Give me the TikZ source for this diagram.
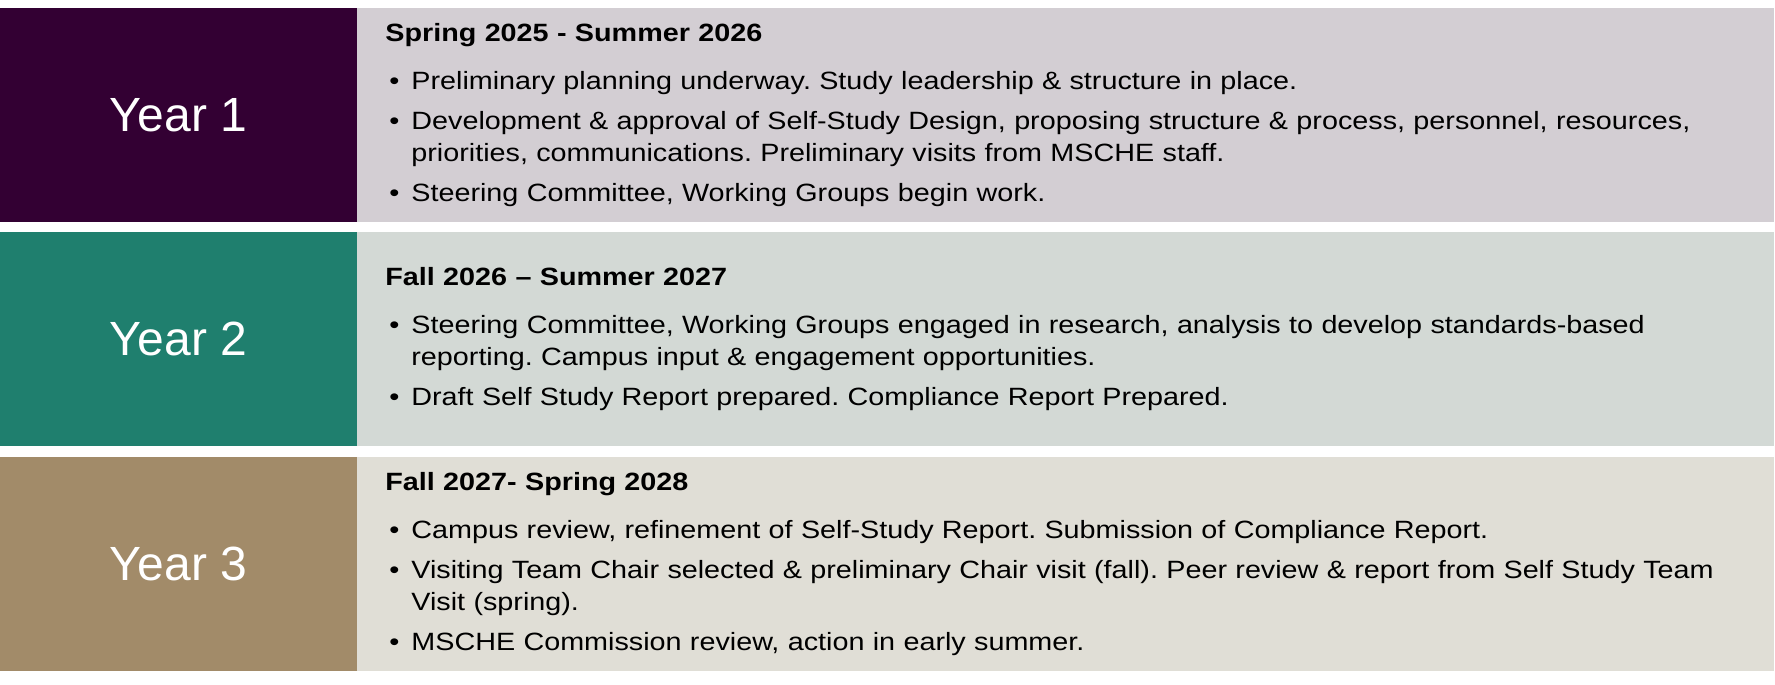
\documentclass[tikz,border=0pt]{standalone}
\usepackage{fontspec}
\setmainfont{Liberation Sans}
\newfontfamily\bodyfont[FakeStretch=1.15]{Liberation Sans}
\usepackage{enumitem}
\usetikzlibrary{positioning}

\definecolor{yearone}{HTML}{330033}
\definecolor{yeartwo}{HTML}{1F7F6E}
\definecolor{yearthree}{HTML}{A28B69}
\definecolor{panelone}{HTML}{D3CED3}
\definecolor{paneltwo}{HTML}{D3D9D5}
\definecolor{panelthree}{HTML}{E0DED6}

\setlist[itemize]{label=\textbullet,leftmargin=26pt,labelsep=12pt,
  topsep=16pt,partopsep=0pt,parsep=0pt,itemsep=8pt}
\frenchspacing

\begin{document}
\begin{tikzpicture}[x=1pt,y=-1pt,
  yearbox/.style={minimum width=357pt,minimum height=214pt,inner sep=0pt,
    text=white,font=\fontsize{48}{56}\selectfont},
  panel/.style={minimum width=1417pt,minimum height=214pt,inner sep=0pt},
  content/.style={anchor=west,inner sep=0pt,text width=1400pt,
    font=\bodyfont\fontsize{25}{32}\selectfont}]
 \useasboundingbox (0,0) rectangle (1775,685);
 \node[yearbox,fill=yearone] (y1) at (178.5,115) {Year 1};
 \node[panel,fill=panelone,right=0pt of y1] (p1) {};
 \node[content] (t1) at ([xshift=28pt]p1.west) {\textbf{Spring 2025 - Summer 2026}
  \begin{itemize}
  \item Preliminary planning underway. Study leadership \& structure in place.
  \item Development \& approval of Self-Study Design, proposing structure \& process, personnel, resources,\newline
   priorities, communications. Preliminary visits from MSCHE staff.
  \item Steering Committee, Working Groups begin work.
  \end{itemize}};

 \node[yearbox,fill=yeartwo,below=10pt of y1] (y2) {Year 2};
 \node[panel,fill=paneltwo,right=0pt of y2] (p2) {};
 \node[content] (t2) at ([xshift=28pt]p2.west) {\textbf{Fall 2026 – Summer 2027}
  \begin{itemize}
  \item Steering Committee, Working Groups engaged in research, analysis to develop standards-based\newline
   reporting. Campus input \& engagement opportunities.
  \item Draft Self Study Report prepared. Compliance Report Prepared.
  \end{itemize}};

 \node[yearbox,fill=yearthree,below=10pt of y2] (y3) {Year 3};
 \node[panel,fill=panelthree,right=0pt of y3] (p3) {};
 \node[content] (t3) at ([xshift=28pt]p3.west) {\textbf{Fall 2027- Spring 2028}
  \begin{itemize}
  \item Campus review, refinement of Self-Study Report. Submission of Compliance Report.
  \item Visiting Team Chair selected \& preliminary Chair visit (fall). Peer review \& report from Self Study Team\newline
   Visit (spring).
  \item MSCHE Commission review, action in early summer.
  \end{itemize}};
\end{tikzpicture}
\end{document}
